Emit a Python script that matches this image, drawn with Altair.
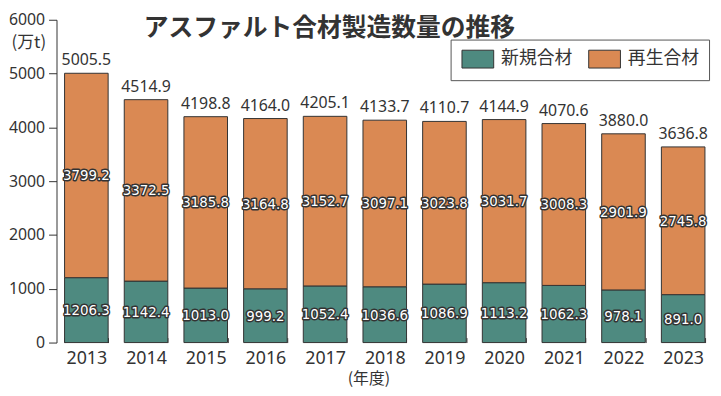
import altair as alt
import pandas as pd

years = ["2013", "2014", "2015", "2016", "2017", "2018", "2019", "2020", "2021", "2022", "2023"]
new_mix = [1206.3, 1142.4, 1013.0, 999.2, 1052.4, 1036.6, 1086.9, 1113.2, 1062.3, 978.1, 891.0]
recycled_mix = [3799.2, 3372.5, 3185.8, 3164.8, 3152.7, 3097.1, 3023.8, 3031.7, 3008.3, 2901.9, 2745.8]
totals = [5005.5, 4514.9, 4198.8, 4164.0, 4205.1, 4133.7, 4110.7, 4144.9, 4070.6, 3880.0, 3636.8]
series = ["新規合材", "再生合材"]
colors = ["#4e8a80", "#da8953"]
title_text = "アスファルト合材製造数量の推移"

rows = []
for i, y in enumerate(years):
    rows.append({"year": y, "type": series[0], "value": new_mix[i], "ord": 0})
    rows.append({"year": y, "type": series[1], "value": recycled_mix[i], "ord": 1})
df = pd.DataFrame(rows)
tdf = pd.DataFrame({"year": years, "total": totals})

NUM_FONT = "Noto Sans"
LBL_FONT = "DejaVu Sans Condensed, Noto Sans"
JP_FONT = "Noto Sans CJK JP"
DARK = "#333333"

xscale = alt.Scale(paddingInner=0.27, paddingOuter=0.135)
yscale = alt.Scale(domain=[0, 6000])

xaxis = alt.Axis(
    orient="bottom", offset=-5, tickSize=5, tickBand="extent", domain=False,
    tickColor=DARK, labelAngle=0, labelFontSize=18, labelFont=NUM_FONT,
    labelColor=DARK, labelPadding=7,
    title="(年度)", titleFont=JP_FONT, titleFontSize=16, titleFontWeight="normal",
    titleColor=DARK, titleX=315, titleY=41, titleBaseline="middle", titleAlign="center",
)
yaxis = alt.Axis(
    values=[0, 1000, 2000, 3000, 4000, 5000, 6000], format="d", tickSize=8, grid=False,
    domainColor=DARK, tickColor=DARK, labelFontSize=16, labelFont=NUM_FONT,
    labelColor=DARK, labelPadding=4,
    title="(万t)", titleAngle=0, titleX=-11, titleY=23, titleAlign="right",
    titleBaseline="middle", titleFont=JP_FONT, titleFontSize=17,
    titleFontWeight="normal", titleColor=DARK,
)

base = alt.Chart(df)

bars = base.mark_bar(stroke=DARK, strokeWidth=1).encode(
    x=alt.X("year:O", scale=xscale, axis=xaxis),
    y=alt.Y("value:Q", stack="zero", scale=yscale, axis=yaxis),
    color=alt.Color(
        "type:N",
        scale=alt.Scale(domain=series, range=colors),
        sort=series,
        legend=alt.Legend(
            title=None, orient="none", legendX=398, legendY=20,
            direction="horizontal",
            symbolType="M-1.78,-1H1.78V1H-1.78Z", symbolSize=324,
            symbolStrokeColor=DARK, symbolStrokeWidth=1, symbolOpacity=1,
            symbolOffset=8, labelOffset=14,
            labelFont=JP_FONT, labelFontSize=18, labelColor=DARK,
            strokeColor="#555555", fillColor="white", padding=10,
            columnPadding=14,
        ),
    ),
    order=alt.Order("ord:Q"),
)

stacked = base.transform_stack(
    stack="value", groupby=["year"], sort=[alt.SortField("ord")], as_=["v0", "v1"]
).transform_calculate(mid="(datum.v0 + datum.v1) / 2")

seg_outline = stacked.mark_text(
    font=LBL_FONT, fontSize=15, fill=DARK, stroke=DARK, strokeWidth=3,
    strokeJoin="round", baseline="middle",
).encode(x="year:O", y="mid:Q", text=alt.Text("value:Q", format=".1f"))

seg_text = stacked.mark_text(
    font=LBL_FONT, fontSize=15, fill="white", baseline="middle",
).encode(x="year:O", y="mid:Q", text=alt.Text("value:Q", format=".1f"))

tot_text = alt.Chart(tdf).mark_text(
    font=NUM_FONT, fontSize=16, color=DARK, baseline="bottom", dy=-5,
).encode(x="year:O", y="total:Q", text=alt.Text("total:Q", format=".1f"))

title = alt.Chart(pd.DataFrame({"t": [title_text]})).mark_text(
    font=JP_FONT, fontSize=25, fontWeight="bold", color=DARK,
    align="left", baseline="top",
).encode(x=alt.value(88), y=alt.value(-4), text="t:N")

chart = alt.layer(bars, seg_outline, seg_text, tot_text, title).properties(
    width=663, height=326,
    autosize=alt.AutoSizeParams(type="none"),
    padding={"left": 49, "top": 10, "right": 0, "bottom": 44},
).configure_view(stroke=None)

chart.save("out.html", embed_options={"renderer": "svg", "actions": False})
